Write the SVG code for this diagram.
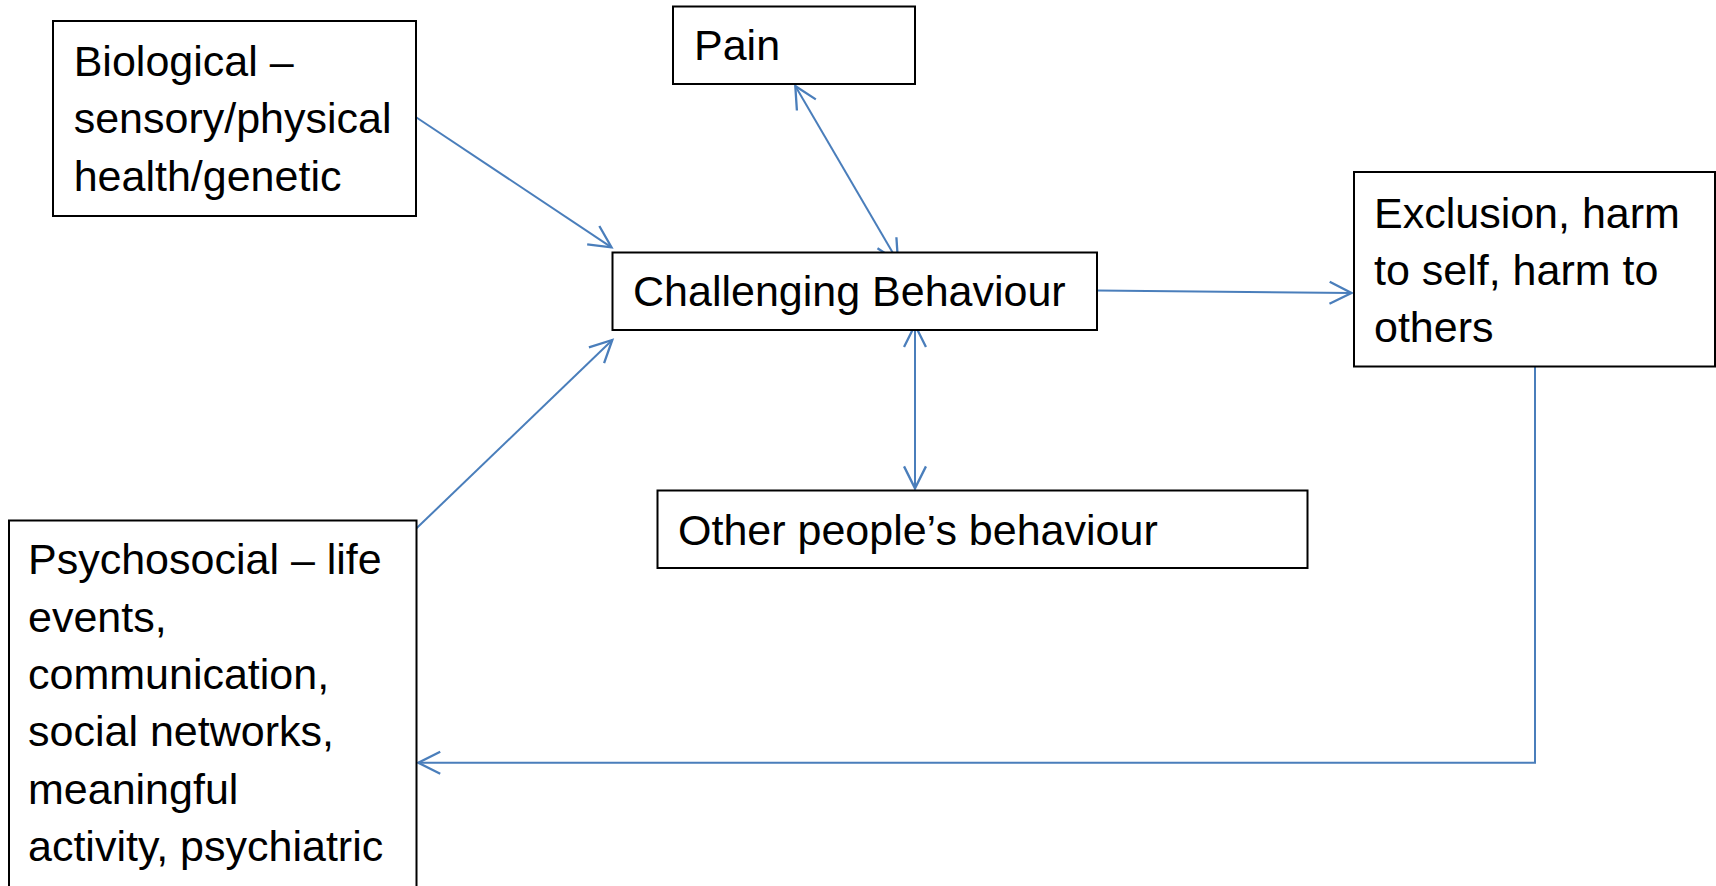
<svg xmlns="http://www.w3.org/2000/svg" width="1716" height="886" viewBox="0 0 1716 886">
<style>
.box{fill:#fff;stroke:#000;stroke-width:2}
.lbl{font-family:"Liberation Sans",Arial,sans-serif;font-size:43px;fill:#000}
.con{fill:none;stroke:#4a7ebb;stroke-width:2}
</style>
<defs>
<marker id="arr" markerUnits="userSpaceOnUse" markerWidth="30" markerHeight="30" viewBox="-22 -12 26 24" refX="0" refY="0" orient="auto-start-reverse">
<path d="M-19,-9.5 L0,0 L-19,9.5" fill="none" stroke="#4a7ebb" stroke-width="2"/>
</marker>
</defs>
<rect width="1716" height="886" fill="#fff"/>
<g id="connectors">
<path class="con" d="M416.5,117.5 L611.5,247.3" marker-end="url(#arr)"/>
<path class="con" d="M416.5,528.3 L612.3,340" marker-end="url(#arr)"/>
<path class="con" d="M795.3,86 L898,261.7" marker-start="url(#arr)" marker-end="url(#arr)"/>
<path class="con" d="M915,325 L915,488.3" marker-start="url(#arr)" marker-end="url(#arr)"/>
<path class="con" d="M1097,290.5 L1351.5,293" marker-end="url(#arr)"/>
<path class="con" d="M1535,366.6 L1535,762.8 L418.3,762.8" marker-end="url(#arr)"/>
</g>
<g id="biological">
<rect class="box" x="53" y="21" width="363" height="195"/>
<text class="lbl" x="73.7" y="76">Biological –</text>
<text class="lbl" x="73.7" y="133">sensory/physical</text>
<text class="lbl" x="73.7" y="190.5">health/genetic</text>
</g>
<g id="pain">
<rect class="box" x="673" y="6.5" width="242" height="77.5"/>
<text class="lbl" x="694" y="60">Pain</text>
</g>
<g id="challenging">
<rect class="box" x="612.5" y="252.5" width="484.5" height="77.5"/>
<text class="lbl" x="633" y="306">Challenging Behaviour</text>
</g>
<g id="exclusion">
<rect class="box" x="1354" y="172" width="361" height="194.5"/>
<text class="lbl" x="1374" y="227.6">Exclusion, harm</text>
<text class="lbl" x="1374" y="284.8">to self, harm to</text>
<text class="lbl" x="1374" y="341.5">others</text>
</g>
<g id="other">
<rect class="box" x="657.5" y="490.5" width="650" height="77.5"/>
<text class="lbl" x="678" y="545">Other people’s behaviour</text>
</g>
<g id="psychosocial">
<rect class="box" x="9" y="520.5" width="407.5" height="380"/>
<text class="lbl" x="28" y="574.3">Psychosocial – life</text>
<text class="lbl" x="28" y="631.7">events,</text>
<text class="lbl" x="28" y="689">communication,</text>
<text class="lbl" x="28" y="746.3">social networks,</text>
<text class="lbl" x="28" y="803.6">meaningful</text>
<text class="lbl" x="28" y="861">activity, psychiatric</text>
</g>
</svg>
